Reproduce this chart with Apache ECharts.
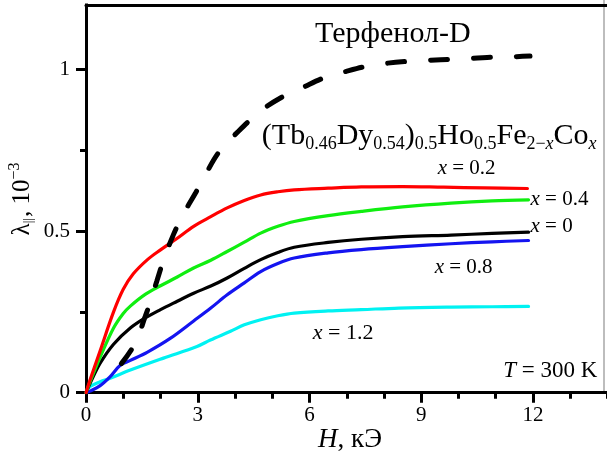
<!DOCTYPE html>
<html>
<head>
<meta charset="utf-8">
<script src="https://cdn.jsdelivr.net/npm/echarts@6/dist/echarts.min.js"></script>
<style>
  html, body { margin: 0; padding: 0; background: #fff; }
  #chart { width: 607px; height: 457px; }
</style>
</head>
<body>
<div id="chart"></div>
<script>
const FONT = '"Liberation Serif", "Times New Roman", serif';

// Axis tick labels
const xTickLabels = [0, 3, 6, 9, 12];
const yTickLabels = [0, 0.5, 1];

// Magnetostriction curves: [H (kOe), lambda (1e-3)]
const curveX0 = [
  [0, 0], [0.11, 0.029], [0.38, 0.091], [0.74, 0.15], [1.19, 0.2], [1.6, 0.232],
  [2.0, 0.257], [2.45, 0.283], [2.89, 0.308], [3.35, 0.33], [3.79, 0.355],
  [4.25, 0.385], [4.69, 0.412], [5.15, 0.434], [5.59, 0.45], [6.5, 0.465],
  [7.39, 0.475], [8.5, 0.483], [9.8, 0.488], [10.9, 0.493], [11.88, 0.497]
];
const curveX02 = [
  [0, 0], [0.11, 0.04], [0.38, 0.13], [0.74, 0.25], [1.0, 0.32], [1.27, 0.368],
  [1.65, 0.412], [2.0, 0.442], [2.45, 0.478], [2.89, 0.515], [3.35, 0.545],
  [3.79, 0.572], [4.25, 0.595], [4.69, 0.612], [5.15, 0.622], [5.59, 0.628],
  [6.5, 0.633], [7.39, 0.637], [8.5, 0.638], [9.6, 0.636], [10.7, 0.634], [11.85, 0.632]
];
const curveX04 = [
  [0, 0], [0.11, 0.034], [0.38, 0.11], [0.74, 0.2], [1.0, 0.245], [1.19, 0.268],
  [1.6, 0.305], [2.0, 0.331], [2.45, 0.358], [2.89, 0.386], [3.35, 0.41],
  [3.79, 0.437], [4.25, 0.466], [4.69, 0.494], [5.15, 0.515], [5.59, 0.53],
  [6.5, 0.548], [7.39, 0.561], [8.5, 0.575], [9.8, 0.587], [10.9, 0.594], [11.88, 0.597]
];
const curveX08 = [
  [0, 0], [0.11, 0.005], [0.38, 0.022], [0.65, 0.05], [0.92, 0.085], [1.19, 0.1],
  [1.64, 0.125], [2.26, 0.168], [2.89, 0.222], [3.35, 0.262], [3.79, 0.303],
  [4.25, 0.34], [4.69, 0.375], [5.15, 0.4], [5.59, 0.417], [6.5, 0.433],
  [7.39, 0.443], [8.5, 0.452], [9.8, 0.461], [10.9, 0.467], [11.88, 0.471]
];
const curveX12 = [
  [0, 0], [0.11, 0.019], [0.38, 0.034], [0.65, 0.045], [1.19, 0.07], [2.08, 0.107],
  [2.98, 0.143], [3.34, 0.163], [3.88, 0.19], [4.25, 0.21], [4.69, 0.226],
  [5.15, 0.238], [5.59, 0.246], [6.5, 0.253], [7.39, 0.257], [8.4, 0.262],
  [9.8, 0.265], [10.9, 0.266], [11.88, 0.267]
];
const curveTerfenol = [
  [0.95, 0.09], [1.32, 0.153], [1.59, 0.236], [1.73, 0.282], [1.9, 0.345],
  [2.08, 0.41], [2.35, 0.49], [2.58, 0.546], [2.94, 0.618], [3.12, 0.656],
  [3.57, 0.745], [4.1, 0.81], [4.69, 0.872], [5.23, 0.913], [5.81, 0.944],
  [6.4, 0.975], [6.94, 0.993], [7.52, 1.01], [8.1, 1.02], [8.69, 1.026],
  [9.23, 1.029], [9.81, 1.032], [10.4, 1.035], [10.98, 1.039], [11.52, 1.04], [11.92, 1.042]
];

const chart = echarts.init(document.getElementById('chart'), null, { renderer: 'canvas' });

const black = '#000';
const PLOT_LEFT = 86, PLOT_TOP = 5, PLOT_RIGHT = 604, PLOT_BOTTOM = 392.7;

// The value axes run a little past the visible frame (x to 15, y to 1.5) so that
// every major and minor tick falls on whole intervals; the frame is drawn by
// offset top/right axes at the visible plot edges.
const X_MAX = 15, Y_MAX = 1.5;
const xScale = 37.25;          // px per kOe
const yScale = 323.1;          // px per 1e-3
const gridTop = PLOT_BOTTOM - Y_MAX * yScale;
const gridRightEdge = PLOT_LEFT + X_MAX * xScale;

function solid(name, data, color) {
  return {
    name, type: 'line', data, xAxisIndex: 0, yAxisIndex: 0,
    showSymbol: false, smooth: 0.35,
    lineStyle: { color, width: 3.2, cap: 'round', join: 'round' },
    z: 3
  };
}

const option = {
  animation: false,
  backgroundColor: '#fff',
  grid: {
    left: PLOT_LEFT, top: gridTop, width: X_MAX * xScale, height: Y_MAX * yScale,
    containLabel: false, outerBoundsMode: 'none'
  },
  xAxis: [
    {
      type: 'value', position: 'bottom', min: 0, max: X_MAX, interval: 3,
      axisLine: { show: true, onZero: false, lineStyle: { color: black, width: 3 } },
      axisTick: { show: true, length: 10, lineStyle: { color: black, width: 3 } },
      minorTick: { show: true, splitNumber: 3, length: 6, lineStyle: { color: black, width: 3 } },
      axisLabel: {
        show: true, customValues: xTickLabels, margin: 12,
        fontSize: 21, fontFamily: FONT, color: '#000'
      },
      splitLine: { show: false }, minorSplitLine: { show: false }
    },
    {
      type: 'value', position: 'top', min: 0, max: X_MAX,
      offset: -(PLOT_TOP - gridTop),
      axisLine: { show: true, onZero: false, lineStyle: { color: black, width: 3 } },
      axisTick: { show: false }, axisLabel: { show: false }, splitLine: { show: false }
    }
  ],
  yAxis: [
    {
      type: 'value', position: 'left', min: 0, max: Y_MAX, interval: 0.5,
      axisLine: { show: true, onZero: false, lineStyle: { color: black, width: 3 } },
      axisTick: { show: true, length: 10, lineStyle: { color: black, width: 3 } },
      minorTick: { show: true, splitNumber: 2, length: 6, lineStyle: { color: black, width: 3 } },
      axisLabel: {
        show: true, customValues: yTickLabels, margin: 16,
        fontSize: 21, fontFamily: FONT, color: '#000'
      },
      splitLine: { show: false }, minorSplitLine: { show: false }
    },
    {
      type: 'value', position: 'right', min: 0, max: Y_MAX,
      offset: PLOT_RIGHT - gridRightEdge,
      axisLine: { show: true, onZero: false, lineStyle: { color: '#bdbdbd', width: 2 } },
      axisTick: { show: false }, axisLabel: { show: false }, splitLine: { show: false }
    }
  ],
  series: [
    {
      name: 'Терфенол-D', type: 'line', data: curveTerfenol, xAxisIndex: 0, yAxisIndex: 0,
      showSymbol: false, smooth: 0.35,
      lineStyle: { color: '#000', width: 5, type: [17, 26], cap: 'round' },
      z: 4
    },
    solid('x = 1.2', curveX12, '#00f2f2'),
    solid('x = 0.8', curveX08, '#1414f0'),
    solid('x = 0', curveX0, '#000000'),
    solid('x = 0.4', curveX04, '#10ee10'),
    solid('x = 0.2', curveX02, '#ff0000')
  ]
};

chart.setOption(option);

// Annotations anchored in data space
const richItalic = {
  i: { fontFamily: FONT, fontSize: 21, fontStyle: 'italic', fill: '#000' },
  r: { fontFamily: FONT, fontSize: 21, fill: '#000' }
};
function px(pt) { return chart.convertToPixel({ xAxisIndex: 0, yAxisIndex: 0 }, pt); }
function note(text, pt, rich, dx, dy) {
  const p = px(pt);
  return {
    type: 'text', x: p[0] + (dx || 0), y: p[1] + (dy || 0), z: 10,
    style: { text, rich, align: 'left', verticalAlign: 'middle', fill: '#000' }
  };
}
const endX04 = curveX04[curveX04.length - 1];
const endX0 = curveX0[curveX0.length - 1];

const formulaRich = {
  m: { fontFamily: FONT, fontSize: 30, fill: '#000' },
  s: { fontFamily: FONT, fontSize: 18, fill: '#000', padding: [16, 0, 0, 0] },
  si: { fontFamily: FONT, fontSize: 18, fontStyle: 'italic', fill: '#000', padding: [16, 0, 0, 0] }
};

chart.setOption({
  graphic: [
    // keep the left axis line from running above the top frame
    {
      type: 'rect', shape: { x: 82, y: 0, width: 8, height: PLOT_TOP - 1.5 }, z: 100,
      style: { fill: '#fff' }, silent: true
    },
    // axis titles
    {
      type: 'text', x: 350, y: 440, z: 10,
      style: {
        text: '{i|H}{m|, кЭ}', align: 'center', verticalAlign: 'middle',
        rich: {
          i: { fontFamily: FONT, fontSize: 27, fontStyle: 'italic', fill: '#000' },
          m: { fontFamily: FONT, fontSize: 27, fill: '#000' }
        }
      }
    },
    {
      type: 'text', x: 22, y: 199, rotation: Math.PI / 2, z: 10,
      style: {
        text: '{l|λ}{s|||}{m|, 10}{p|−3}', align: 'center', verticalAlign: 'middle',
        rich: {
          l: { fontFamily: FONT, fontSize: 25, fill: '#000' },
          s: { fontFamily: FONT, fontSize: 13, fill: '#000', padding: [14, 1, 0, 0] },
          m: { fontFamily: FONT, fontSize: 25, fill: '#000' },
          p: { fontFamily: FONT, fontSize: 16, fill: '#000', padding: [0, 0, 14, 0] }
        }
      }
    },
    // curve annotations
    note('{r|Терфенол-D}', [6.15, 1.11], { r: { fontFamily: FONT, fontSize: 30, fill: '#000' } }),
    note('{m|(Tb}{s|0.46}{m|Dy}{s|0.54}{m|)}{s|0.5}{m|Ho}{s|0.5}{m|Fe}{s|2−}{si|x}{m|Co}{si|x}',
      [4.72, 0.795], formulaRich),
    note('{i|x}{r| = 0.2}', [9.44, 0.695], richItalic),
    note('{i|x}{r| = 0.4}', endX04, richItalic, 2, 0),
    note('{i|x}{r| = 0}', endX0, richItalic, 2, -6),
    note('{i|x}{r| = 0.8}', [9.36, 0.386], richItalic),
    note('{i|x}{r| = 1.2}', [6.09, 0.185], {
      i: { fontFamily: FONT, fontSize: 22, fontStyle: 'italic', fill: '#000' },
      r: { fontFamily: FONT, fontSize: 22, fill: '#000' }
    }),
    note('{i|T}{r| = 300 K}', [11.2, 0.066], {
      i: { fontFamily: FONT, fontSize: 23, fontStyle: 'italic', fill: '#000' },
      r: { fontFamily: FONT, fontSize: 23, fill: '#000' }
    })
  ]
});
</script>
</body>
</html>
